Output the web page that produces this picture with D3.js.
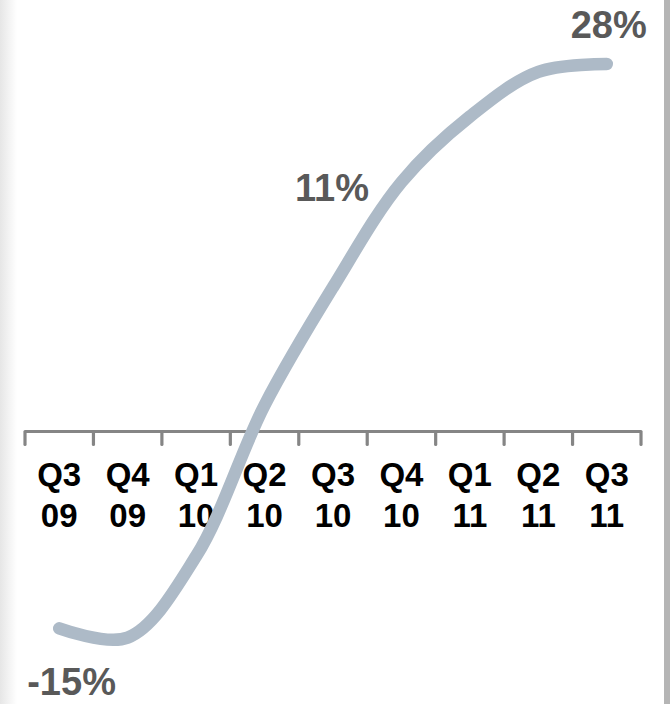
<!DOCTYPE html>
<html>
<head>
<meta charset="utf-8">
<script src="https://cdn.jsdelivr.net/npm/d3@7/dist/d3.min.js"></script>
<style>
  html, body { margin: 0; padding: 0; background: #fff; }
  svg { display: block; }
</style>
</head>
<body>
<svg id="chart" width="670" height="704"></svg>
<script>
// Data
const quarters = ["Q3", "Q4", "Q1", "Q2", "Q3", "Q4", "Q1", "Q2", "Q3"];
const years    = ["09", "09", "10", "10", "10", "10", "11", "11", "11"];
const growth   = [-15, -15.7, -9.5, 2, 11, 19, 24, 27.4, 28];
const labelled = [0, 4, 8];            // indexes with value labels
const labelText = ["-15%", "11%", "28%"];

const W = 670, H = 704;
const svg = d3.select("#chart");

// left soft shade and right border
const defs = svg.append("defs");
const grad = defs.append("linearGradient").attr("id", "lshade").attr("x1", 0).attr("x2", 1);
grad.append("stop").attr("offset", 0).attr("stop-color", "#e6e6e6");
grad.append("stop").attr("offset", 1).attr("stop-color", "#ffffff");
svg.append("rect").attr("x", 0).attr("y", 0).attr("width", 17).attr("height", H).attr("fill", "url(#lshade)");
svg.append("rect").attr("x", 664).attr("y", 0).attr("width", 6).attr("height", H).attr("fill", "#b5b5b5");

const keys = quarters.map((q, i) => i);
const x = d3.scaleBand().domain(keys).range([25, 641]).padding(0);
const y = d3.scaleLinear().domain([0, 28]).range([431.5, 64]);
const cx = i => x(i) + x.bandwidth() / 2;

// axis (ticks at band boundaries)
const tickPos = keys.map(i => x(i)).concat([x.range()[1]]);
const axisG = svg.append("g");
axisG.append("line")
  .attr("x1", x.range()[0]).attr("x2", x.range()[1])
  .attr("y1", y(0)).attr("y2", y(0))
  .attr("stroke", "#858585").attr("stroke-width", 3.2);
axisG.selectAll("line.tick").data(tickPos).join("line")
  .attr("class", "tick")
  .attr("x1", d => d).attr("x2", d => d)
  .attr("y1", y(0)).attr("y2", y(0) + 13)
  .attr("stroke", "#858585").attr("stroke-width", 3.2).attr("stroke-linecap", "round");

// category labels
const lab = svg.append("g")
  .attr("font-family", "Liberation Sans, Arial, sans-serif")
  .attr("font-weight", "bold").attr("font-size", 33).attr("fill", "#000")
  .attr("text-anchor", "middle");
lab.selectAll("text.q").data(keys).join("text").attr("class", "q")
  .attr("x", i => cx(i)).attr("y", 486).text(i => quarters[i]);
lab.selectAll("text.yr").data(keys).join("text").attr("class", "yr")
  .attr("x", i => cx(i)).attr("y", 527).text(i => years[i]);

// line
const line = d3.line().x((d, i) => cx(i)).y(d => y(d)).curve(d3.curveCatmullRom.alpha(0.5));
svg.append("path").datum(growth)
  .attr("d", line)
  .attr("fill", "none").attr("stroke", "#adbac7")
  .attr("stroke-width", 12.5).attr("stroke-linecap", "round").attr("stroke-linejoin", "round");

// value labels
const offs = [{dx: -32, dy: 67, a: "start"}, {dx: 36, dy: -86, a: "end"}, {dx: 40, dy: -26, a: "end"}];
svg.append("g")
  .attr("font-family", "Liberation Sans, Arial, sans-serif")
  .attr("font-weight", "bold").attr("font-size", 38).attr("fill", "#595959")
  .selectAll("text").data(labelled).join("text")
  .attr("x", (d, k) => cx(d) + offs[k].dx)
  .attr("y", (d, k) => y(growth[d]) + offs[k].dy)
  .attr("text-anchor", (d, k) => offs[k].a)
  .text((d, k) => labelText[k]);
</script>
</body>
</html>
